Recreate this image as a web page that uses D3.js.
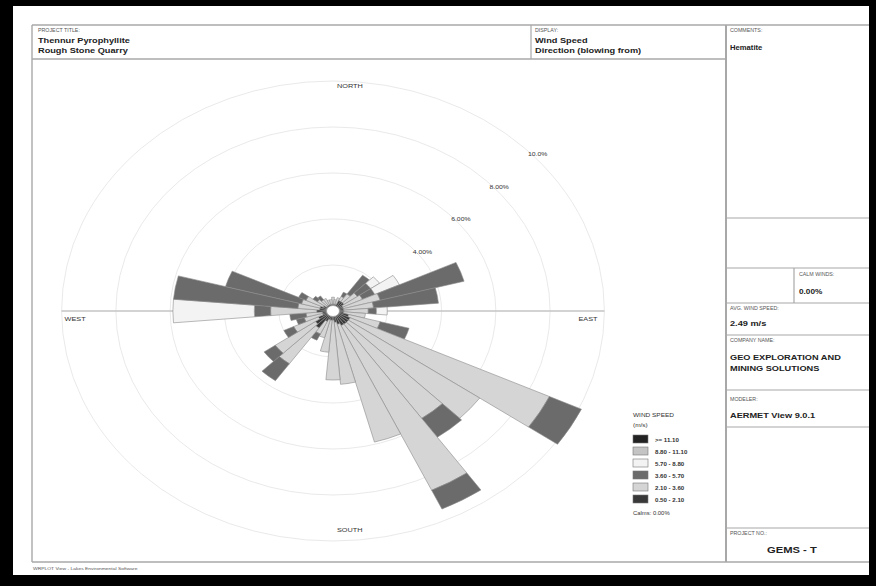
<!DOCTYPE html>
<html>
<head>
<meta charset="utf-8">
<script src="https://cdn.jsdelivr.net/npm/d3@7"></script>
<style>
  html, body { margin: 0; padding: 0; background: #fff; }
  svg { display: block; font-family: "Liberation Sans", Arial, sans-serif; }
</style>
</head>
<body>
<script>
// Wind directions (degrees, blowing from), 36 sectors of 10°
const directions = d3.range(0, 360, 10);

// Frequency (%) of each speed class per direction, inner class first
const freq_050_210 = [0.3,0.3,0.3,0.5,0.5,0.5,0.4,0.4,0.4,0.4,0.4,0.6,0.7,0.7,0.7,0.7,0.6,0.5,
                      0.4,0.4,0.4,0.5,0.9,0.8,0.6,0.4,0.4,0.6,0.5,0.5,0.4,0.3,0.3,0.3,0.3,0.3];
const freq_210_360 = [0.3,0.2,0.3,0.2,0.4,0.6,0.8,1.4,1.1,0.9,0.8,1.2,8.1,5.9,5.0,7.9,5.3,2.7,
                      2.6,1.4,0.8,0.6,1.9,1.8,1.0,0.7,0.6,1.7,0.8,0.7,0.7,0.4,0.3,0.3,0.2,0.2];
const freq_360_570 = [0,0,0,0.2,1.0,0.6,0.5,3.2,2.4,0.3,0,1.1,1.3,0,1.0,0.9,0,0,
                      0,0,0,0.3,0.9,0.5,0.4,0.3,0.6,0.6,4.6,2.9,0.3,0.2,0.2,0,0,0];
const freq_570_880 = [0,0,0,0,0,0.4,1.0,0,0,0.4,0,0,0,0,0,0,0,0,
                      0,0,0,0,0,0,0,0,0,3.0,0,0,0,0,0,0,0,0];
const freq_880_1110 = new Array(36).fill(0);
const freq_ge_1110 = new Array(36).fill(0);

const classSeries = [freq_050_210, freq_210_360, freq_360_570, freq_570_880, freq_880_1110, freq_ge_1110];
const classLabels = ["0.50 - 2.10", "2.10 - 3.60", "3.60 - 5.70", "5.70 - 8.80", "8.80 - 11.10", ">= 11.10"];
const classColors = ["#383838", "#d5d5d5", "#6b6b6b", "#f3f3f3", "#c4c4c4", "#222222"];

// Frequency rings (the innermost ring carries no label)
const ringTicks = [2, 4, 6, 8, 10];
const ringLabels = ["", "4.00%", "6.00%", "8.00%", "10.0%"];

// Compass labels
const compass = [
  {name: "NORTH", dir: 0}, {name: "EAST", dir: 90}, {name: "SOUTH", dir: 180}, {name: "WEST", dir: 270}
];

const W = 876, H = 586;
const SX = 1.18;              // horizontal stretch of the sheet
const cx = 333, cy = 311;     // rose centre

const svg = d3.select("body").append("svg").attr("width", W).attr("height", H);

// sheet border
svg.append("rect").attr("width", W).attr("height", H).attr("fill", "#000");
svg.append("rect").attr("x", 13).attr("y", 6).attr("width", 856).attr("height", 569).attr("fill", "#fff");

function line(x1, y1, x2, y2, w, c) {
  svg.append("line").attr("x1", x1).attr("y1", y1).attr("x2", x2).attr("y2", y2)
    .attr("stroke", c || "#a8a8a8").attr("stroke-width", w || 1.2);
}
function txt(x, y, s, size, weight, fill, anchor) {
  svg.append("text").attr("transform", `translate(${x},${y}) scale(${SX},1)`)
    .attr("font-size", size).attr("font-weight", weight || "normal")
    .attr("fill", fill || "#222").attr("text-anchor", anchor || "start").text(s);
}

// frame lines
line(32, 25, 869, 25, 1.4);
line(32, 25, 32, 562, 1.4);
line(32, 562, 869, 562, 1.4);
line(32, 59, 726, 59, 1.4);
line(531, 25, 531, 59, 1.2);
line(726, 25, 726, 562, 2);
[218, 268, 303, 335, 390, 427, 528].forEach(y => line(726, y, 869, y, 1.2));
line(794, 268, 794, 303, 1.2);

// header and side panel text
const lab = "#555";
txt(38, 32, "PROJECT TITLE:", 4.5, "normal", lab);
txt(38, 43, "Thennur Pyrophyllite", 7.8, "bold");
txt(38, 53, "Rough Stone Quarry", 7.8, "bold");
txt(535, 32, "DISPLAY:", 4.5, "normal", lab);
txt(535, 43, "Wind Speed", 7.8, "bold");
txt(535, 53, "Direction (blowing from)", 7.8, "bold");
txt(730, 32, "COMMENTS:", 4.5, "normal", lab);
txt(730, 50, "Hematite", 6.5, "bold");
txt(799, 276, "CALM WINDS:", 4.5, "normal", lab);
txt(799, 294, "0.00%", 7, "bold");
txt(730, 310, "AVG. WIND SPEED:", 4.5, "normal", lab);
txt(730, 326, "2.49 m/s", 7.8, "bold");
txt(730, 342, "COMPANY NAME:", 4.5, "normal", lab);
txt(730, 360, "GEO EXPLORATION AND", 7.8, "bold");
txt(730, 371, "MINING SOLUTIONS", 7.8, "bold");
txt(730, 401, "MODELER:", 4.5, "normal", lab);
txt(730, 418, "AERMET View 9.0.1", 7.8, "bold");
txt(730, 535, "PROJECT NO.:", 4.5, "normal", lab);
txt(767, 553, "GEMS - T", 9.5, "bold");
txt(33, 570, "WRPLOT View - Lakes Environmental Software", 4.2, "normal", "#555");

// rose
const r = d3.scaleLinear().domain([0, 10]).range([0, 230]);
const g = svg.append("g").attr("transform", `translate(${cx},${cy}) scale(${SX},1)`);

g.selectAll("circle.ring").data(ringTicks).join("circle")
  .attr("class", "ring").attr("r", d => r(d))
  .attr("fill", "none").attr("stroke", "#e6e6e6").attr("stroke-width", 0.9)
  .attr("vector-effect", "non-scaling-stroke");

g.append("line").attr("x1", -r(10)).attr("x2", r(10)).attr("y1", 0).attr("y2", 0)
  .attr("stroke", "#c4c4c4").attr("stroke-width", 1.6).attr("vector-effect", "non-scaling-stroke");

// ring labels along the NE diagonal
ringTicks.forEach((t, i) => {
  const px = cx + r(t) * SX * Math.SQRT1_2, py = cy - r(t) * Math.SQRT1_2;
  if (ringLabels[i]) txt(px + 3, py + 8, ringLabels[i], 5.8, "normal", "#333");
});

// stacked petal segments
const segs = [];
directions.forEach((dir, i) => {
  let acc = 0;
  classSeries.forEach((series, k) => {
    const v = series[i];
    if (v > 0) segs.push({dir, k, r0: acc, r1: acc + v});
    acc += v;
  });
});
const rad = Math.PI / 180;
const arc = d3.arc()
  .innerRadius(d => r(d.r0)).outerRadius(d => r(d.r1))
  .startAngle(d => (d.dir - 5) * rad).endAngle(d => (d.dir + 5) * rad);

g.selectAll("path.seg").data(segs).join("path")
  .attr("class", "seg").attr("d", arc)
  .attr("fill", d => classColors[d.k])
  .attr("stroke", "#8a8a8a").attr("stroke-width", 0.6)
  .attr("vector-effect", "non-scaling-stroke");

// calm circle
g.append("circle").attr("r", 5.5).attr("fill", "#fff").attr("stroke", "#999")
  .attr("stroke-width", 0.8).attr("vector-effect", "non-scaling-stroke");

// compass labels
compass.forEach(c => {
  if (c.dir === 0) txt(cx + 4, cy - r(10) + 7, c.name, 6.2, "normal", "#333");
  if (c.dir === 180) txt(cx + 4, cy + r(10) - 9, c.name, 6.2, "normal", "#333");
  if (c.dir === 270) txt(cx - r(10) * SX + 3, cy + 10, c.name, 6.2, "normal", "#333");
  if (c.dir === 90) txt(cx + r(10) * SX - 26, cy + 10, c.name, 6.2, "normal", "#333");
});

// legend
const lx = 633, ly = 435;
txt(lx, 417, "WIND SPEED", 5.5, "normal", "#333");
txt(lx, 427, "(m/s)", 5.5, "normal", "#333");
const legendOrder = d3.range(classLabels.length).reverse();
legendOrder.forEach((k, j) => {
  svg.append("rect").attr("x", lx).attr("y", ly + j * 12).attr("width", 15).attr("height", 8)
    .attr("fill", classColors[k]).attr("stroke", "#777").attr("stroke-width", 0.6);
  txt(lx + 22, ly + j * 12 + 7, classLabels[k], 5.2, "bold", "#333");
});
txt(lx, 515, "Calms: 0.00%", 5, "normal", "#333");
</script>
</body>
</html>
